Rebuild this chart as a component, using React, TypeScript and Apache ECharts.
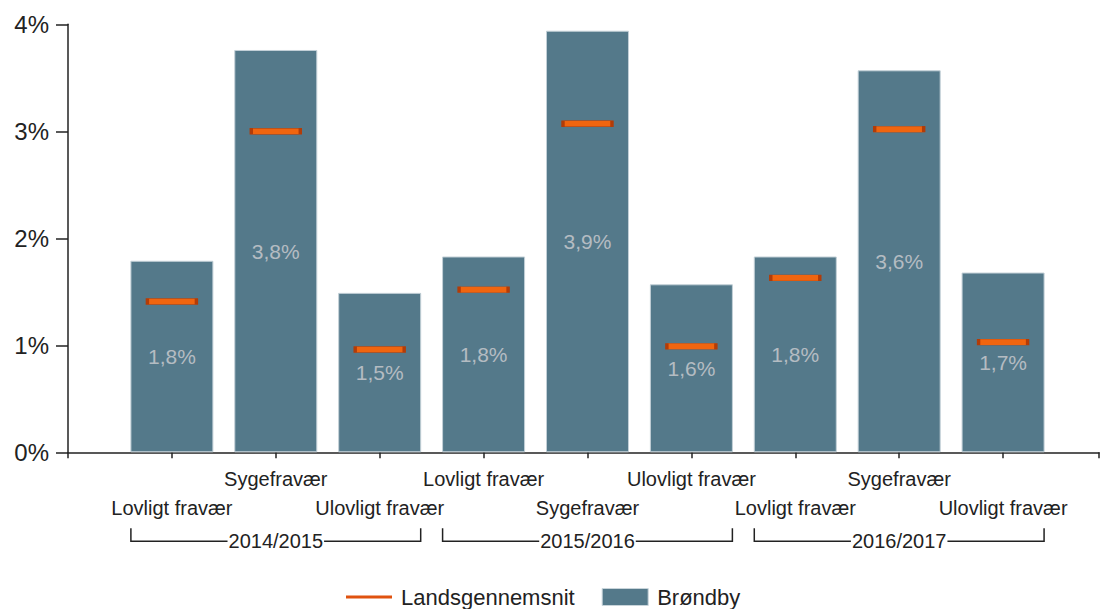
import React, { useEffect, useRef } from "react";
import * as echarts from "echarts";

const years = ["2014/2015", "2015/2016", "2016/2017"];
const categoryLabels = [
  "Lovligt fravær", "Sygefravær", "Ulovligt fravær",
  "Lovligt fravær", "Sygefravær", "Ulovligt fravær",
  "Lovligt fravær", "Sygefravær", "Ulovligt fravær",
];
const brondby = [1.79, 3.76, 1.49, 1.83, 3.94, 1.57, 1.83, 3.57, 1.68];
const landsgennemsnit = [1.41, 3.0, 0.96, 1.52, 3.07, 0.99, 1.63, 3.02, 1.03];
const yTicks = [0, 1, 2, 3, 4];
const seriesNames = ["Landsgennemsnit", "Brøndby"];

const FONT = "'Liberation Sans', Arial, sans-serif";
const BAR_W = 83;

export default function App() {
  const ref = useRef<HTMLDivElement>(null);
  useEffect(() => {
    if (!ref.current) return;
    const chart = echarts.init(ref.current, undefined, { renderer: "svg" });
    const positions = brondby.map((_, i) => i + 1);
    const groups = years.map((y, gi) => [gi * 3 + 1, gi * 3 + 3, 0]);
    chart.setOption({
      animation: false,
      backgroundColor: "#ffffff",
      textStyle: { fontFamily: FONT },
      grid: { left: 68, right: 0, top: 24.3, bottom: 156.7, containLabel: false },
      xAxis: {
        type: "value",
        min: 0,
        max: 1034 / 104.2,
        interval: 1,
        splitLine: { show: false },
        axisLine: { show: true, lineStyle: { color: "#222", width: 1.5 } },
        axisTick: { show: true, length: 6, lineStyle: { color: "#222", width: 1.5 } },
        axisLabel: {
          show: true,
          margin: 12.5,
          verticalAlign: "top",
          fontSize: 20,
          lineHeight: 28.5,
          color: "#222",
          fontFamily: FONT,
          showMinLabel: true,
          showMaxLabel: true,
          formatter: (v: number) => {
            const r = Math.round(v);
            if (Math.abs(v - r) > 1e-6 || r < 1 || r > categoryLabels.length) return "";
            const idx = r - 1;
            return idx % 2 === 1 ? categoryLabels[idx] : "\n" + categoryLabels[idx];
          },
        },
      },
      yAxis: {
        type: "value",
        min: yTicks[0],
        max: yTicks[yTicks.length - 1],
        interval: 1,
        splitLine: { show: false },
        axisLine: { show: true, lineStyle: { color: "#222", width: 1.5 } },
        axisTick: { show: true, length: 12, lineStyle: { color: "#222", width: 1.5 } },
        axisLabel: {
          margin: 19,
          fontSize: 24,
          color: "#222",
          fontFamily: FONT,
          formatter: (v: number) => `${v}%`,
        },
      },
      legend: {
        data: [
          {
            name: seriesNames[0],
            icon: "path://M0,0 L43,0 L43,3 L0,3 Z",
            itemStyle: { color: "#e0520f", borderWidth: 0 },
          },
          { name: seriesNames[1], icon: "rect", itemStyle: { color: "#54798a", borderColor: "#c8d4da", borderWidth: 1 } },
        ],
        left: 341,
        top: 581,
        itemWidth: 46,
        itemHeight: 17,
        itemGap: 27,
        textStyle: { fontSize: 22, color: "#222", fontFamily: FONT, padding: [0, 0, 0, 4] },
        selectedMode: false,
      },
      series: [
        {
          name: seriesNames[1],
          type: "bar",
          barWidth: BAR_W,
          data: positions.map((x, i) => [x, brondby[i]]),
          itemStyle: { color: "#54798a", borderColor: "#c3d0d7", borderWidth: 1 },
          label: {
            show: true,
            position: "inside",
            fontSize: 21,
            color: "#b4bcc2",
            fontFamily: FONT,
            formatter: (p: any) => p.value[1].toFixed(1).replace(".", ",") + "%",
          },
          z: 2,
        },
        {
          name: seriesNames[0],
          type: "scatter",
          symbol: "rect",
          symbolSize: [49, 6],
          data: positions.map((x, i) => [x, landsgennemsnit[i]]),
          itemStyle: { color: "#f0650f", borderColor: "#b23c08", borderWidth: 1.2, opacity: 1 },
          z: 3,
        },
        {
          name: "groups",
          type: "custom",
          clip: false,
          silent: true,
          encode: { x: [0, 1], y: 2 },
          data: groups,
          renderItem: (params: any, api: any) => {
            const s = api.value(0);
            const e = api.value(1);
            const p0 = api.coord([s, 0]);
            const p1 = api.coord([e, 0]);
            const x0 = p0[0] - 41;
            const x1 = p1[0] + 41;
            const yb = p0[1] + 89;
            const yt = p0[1] + 76;
            return {
              type: "group",
              children: [
                {
                  type: "polyline",
                  shape: { points: [[x0, yt], [x0, yb], [x1, yb], [x1, yt]] },
                  style: { stroke: "#222", lineWidth: 1.5, fill: null },
                },
                {
                  type: "text",
                  x: (x0 + x1) / 2,
                  y: yb,
                  style: {
                    text: years[params.dataIndex],
                    textAlign: "center",
                    textVerticalAlign: "middle",
                    fill: "#222",
                    font: `20px ${FONT}`,
                    backgroundColor: "#ffffff",
                    padding: [0, 1],
                  },
                },
              ],
            };
          },
          z: 4,
        },
      ],
    });
    return () => chart.dispose();
  }, []);
  return (
    <div
      ref={ref}
      style={{ position: "absolute", left: 0, top: 0, width: 1102, height: 609 }}
    />
  );
}
